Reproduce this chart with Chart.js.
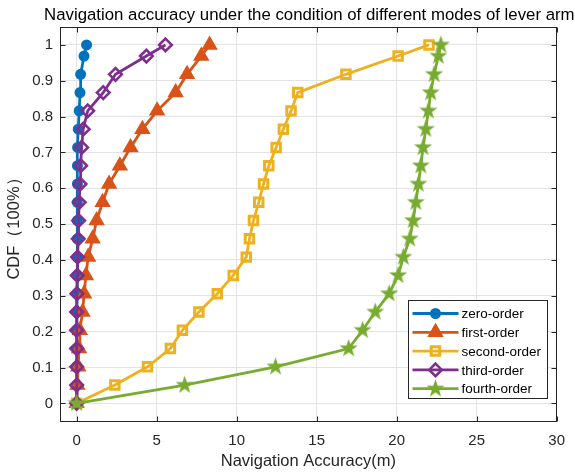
<!DOCTYPE html>
<html>
<head>
<meta charset="utf-8">
<script src="https://cdn.jsdelivr.net/npm/chart.js@4.4.1/dist/chart.umd.min.js"></script>
<style>
  html, body { margin: 0; padding: 0; background: #fff; }
  canvas { display: block; }
</style>
</head>
<body>
<canvas id="cdfChart" width="575" height="474"></canvas>
<script>
const chartTitle = 'Navigation accuracy under the condition of different modes of lever arm';
const xTitle = 'Navigation Accuracy(m)';
const yTitle = 'CDF（100%）';

// CDF levels shared by every curve
const cdfLevels = [0, 0.051, 0.102, 0.153, 0.204, 0.255, 0.306, 0.357, 0.408, 0.459, 0.51,
  0.561, 0.612, 0.663, 0.714, 0.765, 0.816, 0.867, 0.918, 0.969, 1];

// navigation error (m) at each level
const zeroOrder = [0, 0.01, 0.01, 0.02, 0.02, 0.02, 0.03, 0.03, 0.03, 0.04, 0.04,
  0.04, 0.05, 0.05, 0.06, 0.10, 0.16, 0.21, 0.25, 0.46, 0.62];
const firstOrder = [0, 0.05, 0.1, 0.15, 0.2, 0.37, 0.47, 0.58, 0.72, 1.0, 1.25,
  1.62, 2.03, 2.70, 3.37, 4.11, 5.03, 6.19, 6.90, 7.79, 8.31];
const secondOrder = [0, 2.39, 4.43, 5.86, 6.61, 7.64, 8.79, 9.79, 10.60, 10.8, 11.05,
  11.38, 11.68, 12.01, 12.47, 12.92, 13.40, 13.82, 16.83, 20.09, 22.02];
const thirdOrder = [0, 0, 0, 0, 0, 0, 0.02, 0.04, 0.06, 0.10, 0.12,
  0.16, 0.21, 0.25, 0.31, 0.41, 0.69, 1.66, 2.43, 4.36, 5.55];
const fourthOrder = [0, 6.75, 12.43, 17.0, 17.87, 18.66, 19.53, 20.09, 20.42, 20.82, 21.03,
  21.20, 21.36, 21.51, 21.65, 21.82, 21.98, 22.13, 22.34, 22.61, 22.76];

const seriesNames = ['zero-order', 'first-order', 'second-order', 'third-order', 'fourth-order'];
const xTicks = [0, 5, 10, 15, 20, 25, 30];
const yTicks = [0, 0.1, 0.2, 0.3, 0.4, 0.5, 0.6, 0.7, 0.8, 0.9, 1];
const yTickLabels = ['0', '0.1', '0.2', '0.3', '0.4', '0.5', '0.6', '0.7', '0.8', '0.9', '1'];

const FONT = "'Liberation Sans', Arial, sans-serif";
const colors = ['#0072BD', '#D95319', '#EDB120', '#7E2F8E', '#77AC30'];

// filled pentagram marker (Chart.js has no filled star)
function makeStar(color, rOut) {
  const c = document.createElement('canvas');
  const s = Math.ceil(rOut * 2 + 2);
  c.width = s; c.height = s;
  const g = c.getContext('2d');
  const rIn = rOut * 0.4;
  g.beginPath();
  for (let i = 0; i < 10; i++) {
    const r = i % 2 ? rIn : rOut;
    const a = -Math.PI / 2 + i * Math.PI / 5;
    const px = s / 2 + r * Math.cos(a), py = s / 2 + r * Math.sin(a);
    if (i === 0) g.moveTo(px, py); else g.lineTo(px, py);
  }
  g.closePath();
  g.fillStyle = color;
  g.fill();
  return c;
}
const starImg = makeStar(colors[4], 9.5);

function toPoints(xs) {
  return xs.map((x, i) => ({ x: x, y: cdfLevels[i] }));
}

const seriesX = [zeroOrder, firstOrder, secondOrder, thirdOrder, fourthOrder];
const markerStyles = [
  { pointStyle: 'circle', pointRadius: 4.5, fill: true, bw: 2 },
  { pointStyle: 'triangle', pointRadius: 7.5, fill: true, bw: 2 },
  { pointStyle: 'rect', pointRadius: 6, fill: false, bw: 3 },
  { pointStyle: 'rectRot', pointRadius: 6.3, fill: false, bw: 2.6 },
  { pointStyle: starImg, pointRadius: 9, fill: true, bw: 2 }
];

const datasets = seriesX.map((xs, i) => ({
  label: seriesNames[i],
  data: toPoints(xs),
  borderColor: colors[i],
  borderWidth: 2.8,
  pointStyle: markerStyles[i].pointStyle,
  pointRadius: markerStyles[i].pointRadius,
  pointBorderColor: colors[i],
  pointBackgroundColor: markerStyles[i].fill ? colors[i] : 'rgba(0,0,0,0)',
  pointBorderWidth: markerStyles[i].bw,
  tension: 0,
  order: 5 - i // later series drawn on top
}));

function drawMarker(ctx, style, x, y, r, color, filled, bw) {
  ctx.save();
  ctx.strokeStyle = color;
  ctx.fillStyle = color;
  ctx.lineWidth = bw;
  if (style instanceof HTMLCanvasElement) {
    ctx.drawImage(style, x - style.width / 2, y - style.height / 2);
    ctx.restore();
    return;
  }
  ctx.beginPath();
  if (style === 'circle') {
    ctx.arc(x, y, r, 0, Math.PI * 2);
  } else if (style === 'triangle') {
    for (let k = 0; k < 3; k++) {
      const a = -Math.PI / 2 + k * 2 * Math.PI / 3;
      const px = x + r * Math.cos(a), py = y + r * Math.sin(a);
      if (k === 0) ctx.moveTo(px, py); else ctx.lineTo(px, py);
    }
    ctx.closePath();
  } else if (style === 'rect') {
    const h = r * Math.SQRT1_2;
    ctx.rect(x - h, y - h, 2 * h, 2 * h);
  } else if (style === 'rectRot') {
    ctx.moveTo(x, y - r); ctx.lineTo(x + r, y); ctx.lineTo(x, y + r); ctx.lineTo(x - r, y);
    ctx.closePath();
  }
  if (filled) ctx.fill();
  ctx.stroke();
  ctx.restore();
}

const frameTitleLegend = {
  id: 'frameTitleLegend',
  afterDatasetsDraw(chart) {
    const { ctx, chartArea: a, scales } = chart;
    ctx.save();
    // axes box with inward ticks
    const L = Math.round(a.left) + 0.5, R = Math.round(a.right) - 0.5;
    const T = Math.round(a.top) + 0.5, B = Math.round(a.bottom) - 0.5;
    ctx.strokeStyle = '#262626';
    ctx.lineWidth = 1;
    ctx.strokeRect(L, T, R - L, B - T);
    ctx.beginPath();
    scales.x.ticks.forEach(t => {
      const px = Math.round(scales.x.getPixelForValue(t.value)) + 0.5;
      ctx.moveTo(px, B); ctx.lineTo(px, B - 5);
      ctx.moveTo(px, T); ctx.lineTo(px, T + 5);
    });
    scales.y.ticks.forEach(t => {
      const py = Math.round(scales.y.getPixelForValue(t.value)) + 0.5;
      ctx.moveTo(L, py); ctx.lineTo(L + 5, py);
      ctx.moveTo(R, py); ctx.lineTo(R - 5, py);
    });
    ctx.stroke();

    // title centred over the axes
    ctx.fillStyle = '#000';
    ctx.font = '16.8px ' + FONT;
    ctx.textAlign = 'center';
    ctx.textBaseline = 'middle';
    ctx.fillText(chartTitle, (a.left + a.right) / 2 + 1, 15);

    // legend box inside the plot, lower right
    const bw = 139, bh = 98;
    const bx = Math.round(a.right - 149) + 0.5, by = Math.round(a.bottom - 122) + 0.5;
    ctx.fillStyle = '#fff';
    ctx.fillRect(bx, by, bw, bh);
    ctx.strokeStyle = '#262626';
    ctx.lineWidth = 1;
    ctx.strokeRect(bx, by, bw, bh);
    ctx.font = '13.5px ' + FONT;
    ctx.textAlign = 'left';
    chart.data.datasets.forEach((ds, i) => {
      const ry = by + 13 + i * 18.8;
      ctx.strokeStyle = ds.borderColor;
      ctx.lineWidth = 2.8;
      ctx.beginPath();
      ctx.moveTo(bx + 4, ry); ctx.lineTo(bx + 50, ry);
      ctx.stroke();
      drawMarker(ctx, ds.pointStyle, bx + 27, ry, ds.pointRadius, ds.borderColor,
        ds.pointBackgroundColor !== 'rgba(0,0,0,0)', ds.pointBorderWidth);
      ctx.fillStyle = '#000';
      ctx.fillText(ds.label, bx + 53, ry + 1);
    });
    ctx.restore();
  }
};

new Chart(document.getElementById('cdfChart'), {
  type: 'line',
  data: { datasets: datasets },
  options: {
    responsive: false,
    animation: false,
    devicePixelRatio: 1,
    layout: { padding: { top: 27, right: 17, left: 0, bottom: 0 } },
    plugins: { legend: { display: false }, title: { display: false }, tooltip: { enabled: false } },
    scales: {
      x: {
        type: 'linear',
        min: -1.04,
        max: 30,
        afterBuildTicks: s => { s.ticks = xTicks.map(v => ({ value: v })); },
        afterFit: s => { s.height = 52; },
        grid: { color: '#e3e3e3', drawTicks: false },
        border: { display: false },
        ticks: { padding: 10, color: '#262626', font: { family: FONT, size: 15 }, callback: v => String(v) },
        title: { display: true, text: xTitle, color: '#262626', font: { family: FONT, size: 16.5 }, padding: { top: 0, bottom: 3 } }
      },
      y: {
        type: 'linear',
        min: -0.052,
        max: 1.05,
        afterBuildTicks: s => { s.ticks = yTicks.map(v => ({ value: v })); },
        afterFit: s => { s.width = 60; },
        grid: { color: '#e3e3e3', drawTicks: false },
        border: { display: false },
        ticks: { padding: 7, color: '#262626', font: { family: FONT, size: 15 }, callback: (v, i) => yTickLabels[i] },
        title: { display: true, text: yTitle, color: '#262626', font: { family: FONT, size: 16.5 }, padding: { top: 5, bottom: 0 } }
      }
    }
  },
  plugins: [frameTitleLegend]
});
</script>
</body>
</html>
